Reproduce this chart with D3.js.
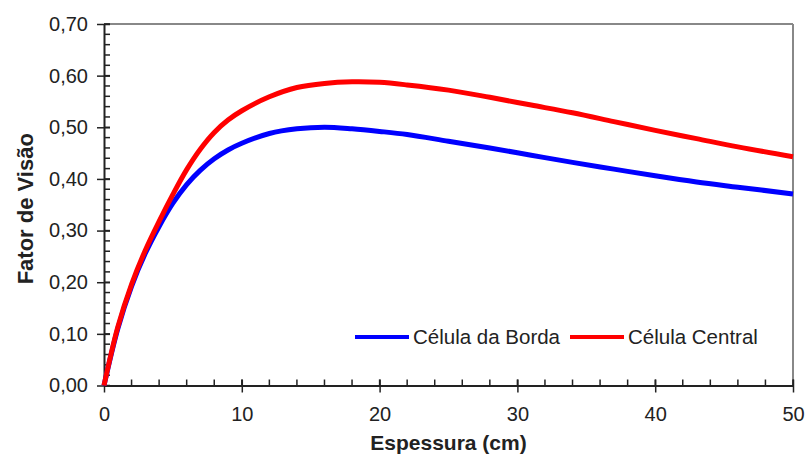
<!DOCTYPE html>
<html>
<head>
<meta charset="utf-8">
<script src="https://cdn.jsdelivr.net/npm/d3@7"></script>
<style>
  body { margin: 0; background: #fff; }
  text { font-family: 'Liberation Sans', Arial, sans-serif; fill: #222; }
</style>
</head>
<body>
<div id="chart"></div>
<script>
var espessura = [0, 1, 2, 3, 4, 5, 6, 7, 8, 9, 10, 12, 14, 16, 18, 20, 22, 25, 28, 31, 34, 37, 40, 43, 46, 50]
var borda = [0, 0.110, 0.192, 0.256, 0.308, 0.353, 0.389, 0.417, 0.439, 0.456, 0.469, 0.488, 0.497, 0.500, 0.497, 0.492, 0.486, 0.473, 0.460, 0.446, 0.432, 0.419, 0.406, 0.394, 0.384, 0.371]
var central = [0, 0.113, 0.196, 0.262, 0.318, 0.370, 0.418, 0.458, 0.490, 0.514, 0.532, 0.559, 0.577, 0.585, 0.588, 0.587, 0.582, 0.572, 0.558, 0.543, 0.528, 0.511, 0.494, 0.478, 0.462, 0.443]
var xTicks = [0, 10, 20, 30, 40, 50]
var yTicks = [0, 0.1, 0.2, 0.3, 0.4, 0.5, 0.6, 0.7]
var series = [
  { name: 'Célula da Borda', values: borda, color: '#0000ff' },
  { name: 'Célula Central', values: central, color: '#ff0000' }
]

var svgWidth = 808
var svgHeight = 459
var plotLeft = 104, plotRight = 793, plotTop = 24, plotBottom = 385.5

var x = d3.scaleLinear().domain([0, 50]).range([plotLeft, plotRight])
var y = d3.scaleLinear().domain([0, 0.7]).range([plotBottom, plotTop])

var svg = d3.select('#chart').append('svg')
  .attr('width', svgWidth)
  .attr('height', svgHeight)

// gray frame on top and right
svg.append('line')
  .attr('x1', plotLeft).attr('x2', plotRight).attr('y1', plotTop).attr('y2', plotTop)
  .attr('stroke', '#888').attr('stroke-width', 2)
svg.append('line')
  .attr('x1', plotRight).attr('x2', plotRight).attr('y1', plotTop).attr('y2', plotBottom)
  .attr('stroke', '#888').attr('stroke-width', 2)

var fmt = function (d) { return d3.format('.2f')(d).replace('.', ',') }

// y axis
var yMinor = d3.range(0, 0.7001, 0.02)
svg.append('g').selectAll('line')
  .data(yMinor)
  .enter().append('line')
  .attr('x1', plotLeft).attr('x2', plotLeft + 6)
  .attr('y1', function (d) { return y(d) })
  .attr('y2', function (d) { return y(d) })
  .attr('stroke', '#222').attr('stroke-width', 1.5)

var yAxis = svg.append('g')
  .attr('transform', 'translate(' + plotLeft + ',0)')
  .call(d3.axisLeft(y).tickValues(yTicks).tickFormat(fmt).tickSizeInner(7).tickSizeOuter(0).tickPadding(9))
yAxis.select('.domain').attr('stroke', '#222').attr('stroke-width', 2)
yAxis.selectAll('.tick line').attr('stroke', '#222').attr('stroke-width', 1.5).attr('x2', -7).attr('x1', 6)
yAxis.selectAll('.tick text').attr('font-size', 20).attr('fill', '#222').attr('font-family', "'Liberation Sans', Arial, sans-serif")

// x axis
var xMinor = d3.range(0, 50.001, 2)
svg.append('g').selectAll('line')
  .data(xMinor)
  .enter().append('line')
  .attr('y1', plotBottom).attr('y2', plotBottom - 6)
  .attr('x1', function (d) { return x(d) })
  .attr('x2', function (d) { return x(d) })
  .attr('stroke', '#222').attr('stroke-width', 1.5)

var xAxis = svg.append('g')
  .attr('transform', 'translate(0,' + plotBottom + ')')
  .call(d3.axisBottom(x).tickValues(xTicks).tickSizeInner(7).tickSizeOuter(0).tickPadding(14))
xAxis.select('.domain').attr('stroke', '#222').attr('stroke-width', 2)
xAxis.selectAll('.tick line').attr('stroke', '#222').attr('stroke-width', 1.5).attr('y1', -6).attr('y2', 7)
xAxis.selectAll('.tick text').attr('font-size', 20).attr('fill', '#222').attr('font-family', "'Liberation Sans', Arial, sans-serif")

// axis titles
svg.append('text')
  .attr('x', (plotLeft + plotRight) / 2)
  .attr('y', 450)
  .attr('text-anchor', 'middle')
  .attr('font-size', 21)
  .attr('font-weight', 'bold')
  .text('Espessura (cm)')

svg.append('text')
  .attr('transform', 'translate(33,' + ((plotTop + plotBottom) / 2 + 4) + ') rotate(-90)')
  .attr('text-anchor', 'middle')
  .attr('font-size', 22)
  .attr('font-weight', 'bold')
  .text('Fator de Visão')

// curves
var line = d3.line()
  .x(function (d, i) { return x(espessura[i]) })
  .y(function (d) { return y(d) })
  .curve(d3.curveCatmullRom.alpha(0.5))

series.forEach(function (s) {
  svg.append('path')
    .datum(s.values)
    .attr('d', line)
    .attr('fill', 'none')
    .attr('stroke', s.color)
    .attr('stroke-width', 5)
    .attr('stroke-linejoin', 'round')
})

// legend
var legendX = [355, 570]
series.forEach(function (s, i) {
  svg.append('line')
    .attr('x1', legendX[i]).attr('x2', legendX[i] + 54)
    .attr('y1', 337).attr('y2', 337)
    .attr('stroke', s.color).attr('stroke-width', 4)
  svg.append('text')
    .attr('x', legendX[i] + 58)
    .attr('y', 344)
    .attr('font-size', 20.5)
    .text(s.name)
})
</script>
</body>
</html>
